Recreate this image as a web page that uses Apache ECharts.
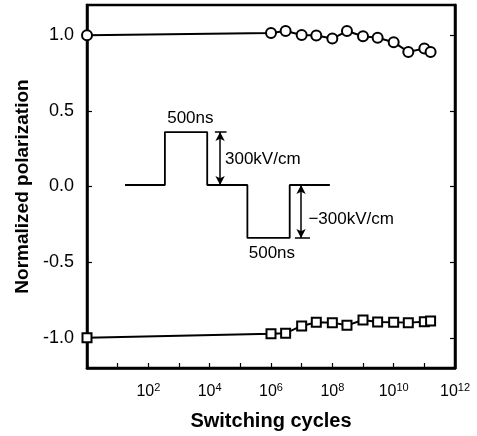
<!DOCTYPE html>
<html>
<head>
<meta charset="utf-8">
<script src="https://cdn.jsdelivr.net/npm/echarts@6/dist/echarts.min.js"></script>
<style>html,body{margin:0;padding:0;background:#fff}#c{width:477px;height:436px}</style>
</head>
<body>
<div id="c"></div>
<script>
// Switching cycles (x) for both data series
var cycles = [1, 1e6, 3e6, 1e7, 3e7, 1e8, 3e8, 1e9, 3e9, 1e10, 3e10, 1e11, 1.6e11];
// Normalized polarization, positive state (circles)
var posPolarization = [1.0, 1.015, 1.028, 1.002, 0.998, 0.978, 1.028, 0.993, 0.983, 0.954, 0.89, 0.913, 0.889];
// Normalized polarization, negative state (squares)
var negPolarization = [-1.0, -0.974, -0.97, -0.922, -0.898, -0.9, -0.918, -0.883, -0.896, -0.898, -0.9, -0.894, -0.889];
// Y tick labels
var yTicks = [-1.0, -0.5, 0.0, 0.5, 1.0];
// X tick exponents that carry labels
var xLabelExps = [2, 4, 6, 8, 10, 12];
// Inset pulse waveform (schematic), x as decade exponent, y in axis units
var pulseExp = [1.24, 2.54, 2.54, 3.92, 3.92, 5.23, 5.23, 6.61, 6.61, 7.92];
var pulseVal = [0.01, 0.01, 0.36, 0.36, 0.01, 0.01, -0.34, -0.34, 0.01, 0.01];
// Inset labels
var insetTexts = ['500ns', '300kV/cm', '\u2212300kV/cm', '500ns'];

function zip(xs, ys) { return xs.map(function (x, i) { return [x, ys[i]]; }); }
function dec(e) { return Math.pow(10, e); }

var FONT = 'Liberation Sans';
var chart = echarts.init(document.getElementById('c'), null, {renderer: 'canvas'});

function txt(t, e, v, align) {
  return {coord: [dec(e), v], value: 0,
    label: {show: true, formatter: t, position: 'inside', align: align, verticalAlign: 'middle',
      color: '#000', fontFamily: FONT, fontSize: 17, textBorderWidth: 0}};
}

var option = {
  animation: false,
  backgroundColor: '#fff',
  grid: {left: 87, right: 22, top: 5, bottom: 64, show: true, borderColor: '#000', borderWidth: 2.5, containLabel: false},
  xAxis: [{
    type: 'log', logBase: 10, min: 1, max: 1e12, interval: 1,
    name: 'Switching cycles', nameLocation: 'middle', nameGap: 43,
    nameTextStyle: {fontFamily: FONT, fontWeight: 'bold', fontSize: 20, color: '#000'},
    axisLine: {show: true, onZero: false, lineStyle: {color: '#000', width: 2.5}},
    axisTick: {show: true, inside: true, length: 5, lineStyle: {color: '#000', width: 1.2}},
    splitLine: {show: false},
    axisLabel: {
      margin: 14, color: '#000', fontFamily: FONT,
      formatter: function (v) {
        var e = Math.round(Math.log10(v));
        if (xLabelExps.indexOf(e) < 0) return '';
        return '{b|10}{s|' + e + '}';
      },
      rich: {
        b: {fontFamily: FONT, fontSize: 16, color: '#000', lineHeight: 20},
        s: {fontFamily: FONT, fontSize: 11, color: '#000', lineHeight: 20, verticalAlign: 'top', padding: [0, 0, 8, 0]}
      }
    }
  }],
  yAxis: [{
    type: 'value', min: -1.2, max: 1.2,
    name: 'Normalized polarization', nameLocation: 'middle', nameGap: 45, nameRotate: 90,
    nameTextStyle: {fontFamily: FONT, fontWeight: 'bold', fontSize: 19, color: '#000'},
    axisLine: {show: true, onZero: false, lineStyle: {color: '#000', width: 2.5}},
    axisTick: {show: true, inside: true, length: 5, customValues: yTicks, lineStyle: {color: '#000', width: 1.2}},
    splitLine: {show: false},
    axisLabel: {
      customValues: yTicks, margin: 13, color: '#000', fontFamily: FONT, fontSize: 18,
      formatter: function (v) { return (v < 0 ? '-' : '') + Math.abs(v).toFixed(1); }
    }
  }, {
    type: 'value', min: -1.2, max: 1.2, position: 'right',
    axisLine: {show: true, onZero: false, lineStyle: {color: '#000', width: 2.5}},
    axisTick: {show: true, inside: true, length: 5, customValues: yTicks, lineStyle: {color: '#000', width: 1.2}},
    splitLine: {show: false},
    axisLabel: {show: false}
  }],
  series: [{
    name: 'positive', type: 'line', clip: false,
    data: zip(cycles, posPolarization),
    symbol: 'circle', symbolSize: 10,
    lineStyle: {color: '#000', width: 2},
    itemStyle: {color: '#fff', borderColor: '#000', borderWidth: 2},
    z: 5
  }, {
    name: 'negative', type: 'line', clip: false,
    data: zip(cycles, negPolarization),
    symbol: 'rect', symbolSize: 9,
    lineStyle: {color: '#000', width: 2},
    itemStyle: {color: '#fff', borderColor: '#000', borderWidth: 2},
    z: 5
  }, {
    name: 'pulse', type: 'line', clip: false, silent: true,
    data: zip(pulseExp.map(dec), pulseVal),
    symbol: 'none',
    lineStyle: {color: '#000', width: 1.8},
    markLine: {
      silent: true, animation: false,
      label: {show: false},
      lineStyle: {color: '#000', width: 1.5, type: 'solid'},
      symbol: ['none', 'none'],
      data: [
        [{coord: [dec(4.34), 0.36], symbol: 'arrow', symbolSize: [7, 9]}, {coord: [dec(4.34), 0.01], symbol: 'arrow', symbolSize: [7, 9]}],
        [{coord: [dec(4.17), 0.36]}, {coord: [dec(4.55), 0.36]}],
        [{coord: [dec(6.98), 0.01], symbol: 'arrow', symbolSize: [7, 9]}, {coord: [dec(6.98), -0.34], symbol: 'arrow', symbolSize: [7, 9]}],
        [{coord: [dec(6.78), -0.34]}, {coord: [dec(7.27), -0.34]}]
      ]
    },
    markPoint: {
      silent: true, animation: false, symbol: 'circle', symbolSize: 0,
      itemStyle: {color: 'transparent'},
      data: [
        txt(insetTexts[0], 3.37, 0.45, 'center'),
        txt(insetTexts[1], 4.5, 0.18, 'left'),
        txt(insetTexts[2], 7.22, -0.215, 'left'),
        txt(insetTexts[3], 6.03, -0.44, 'center')
      ]
    }
  }]
};
chart.setOption(option);
</script>
</body>
</html>
